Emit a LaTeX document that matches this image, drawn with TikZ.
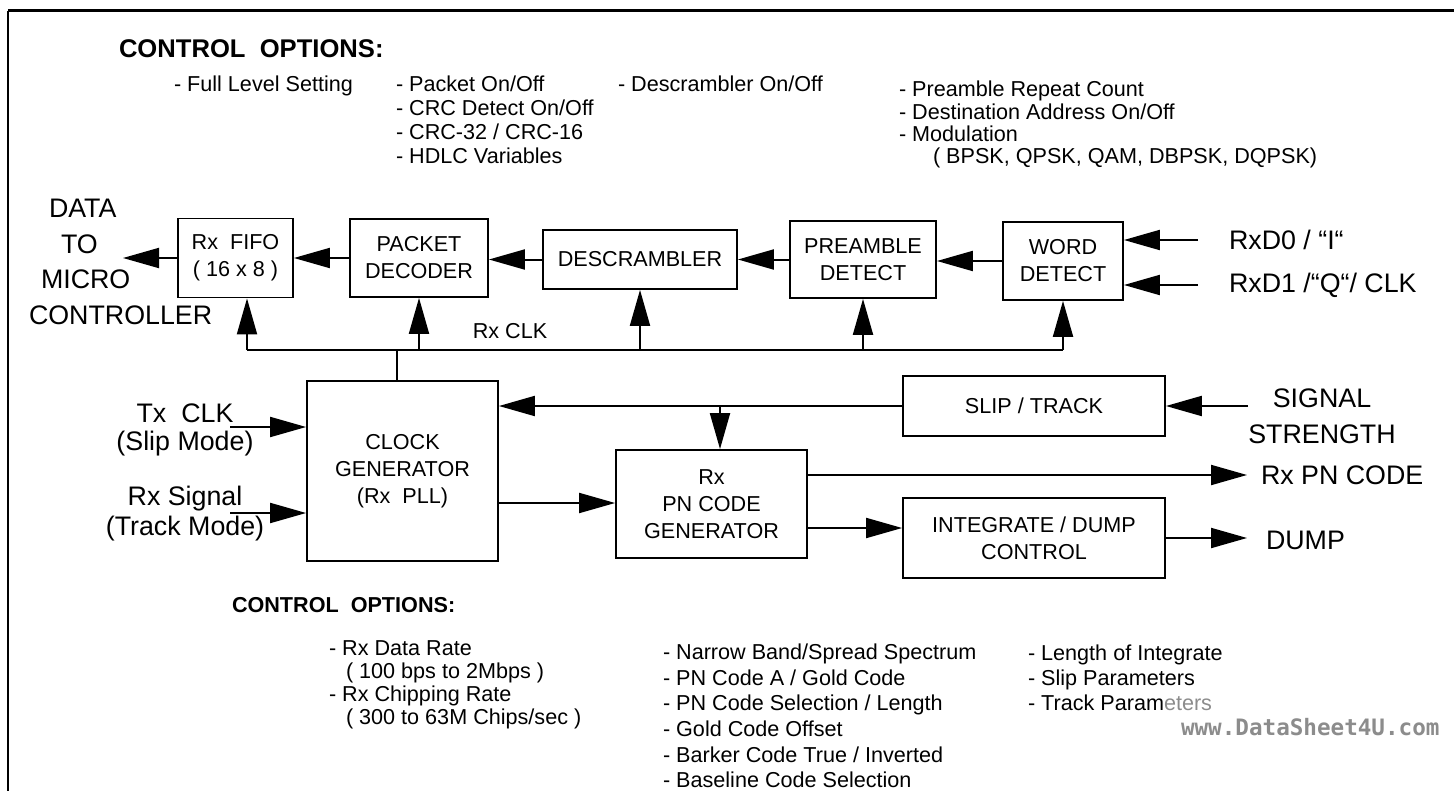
\documentclass[tikz,border=0pt]{standalone}
\usepackage{fontspec}
\setmainfont{Liberation Sans}
\newfontfamily\wmfont{DejaVu Sans Mono}
\usetikzlibrary{arrows.meta}

\begin{document}
\begin{tikzpicture}[x=0.5pt, y=-0.5pt, line width=1pt,
  blk/.style={draw, line width=0.9pt, inner sep=0pt, align=center, font=\fontsize{10.8}{13.5}\selectfont},
  arr/.style={-{Triangle[length=18pt, width=10pt]}},
  big/.style={inner sep=0pt, font=\fontsize{13.4}{17.8}\selectfont},
  opt/.style={anchor=north west, inner sep=0pt, align=left},
  head/.style={anchor=west, inner sep=0pt, font=\bfseries\fontsize{12.8}{15}\selectfont}]

\useasboundingbox (0,0) rectangle (1454,791);

% draw frame
\draw[line width=1.5pt] (8,11) -- (1454,11);
\draw[line width=1pt] (8,11) -- (8,791);

% draw upper control options
\node[head] (topopt) at (118,49) {CONTROL\ \ OPTIONS:};
\node[opt, font=\fontsize{10.8}{12}\selectfont] (fifoopt) at (173,75) {- Full Level Setting};
\node[opt, font=\fontsize{10.8}{12}\selectfont] (pktopt) at (395,75) {- Packet On/Off\\- CRC Detect On/Off\\- CRC-32 / CRC-16\\- HDLC Variables};
\node[opt, font=\fontsize{10.8}{12}\selectfont] (dscopt) at (617,75) {- Descrambler On/Off};
\node[opt, font=\fontsize{10.8}{11.2}\selectfont] (preopt) at (898,80) {- Preamble Repeat Count\\- Destination Address On/Off\\- Modulation\\\hspace*{17pt}( BPSK, QPSK, QAM, DBPSK, DQPSK)};

% draw receive chain
\node[blk, minimum width=57.5pt, minimum height=39.5pt] (fifo) at (235.5,258) {Rx\ \ FIFO\\( 16 x 8 )};
\node[blk, minimum width=69pt, minimum height=39pt] (packet) at (419,258) {PACKET\\DECODER};
\node[blk, minimum width=97pt, minimum height=29.5pt] (descr) at (640,259.5) {DESCRAMBLER};
\node[blk, minimum width=73pt, minimum height=38.5pt] (pream) at (863,259.5) {PREAMBLE\\DETECT};
\node[blk, minimum width=60pt, minimum height=39pt] (word) at (1063,261) {WORD\\DETECT};

\node[big, anchor=north west, align=left] (data) at (28,198) {\hspace*{10pt}DATA\\\hspace*{16pt}TO\\\hspace*{6pt}MICRO\\CONTROLLER};
\coordinate (dataout) at (123,258);

\draw[arr] (fifo.west) -- (dataout);
\draw[arr] (packet.west) -- (fifo.east);
\draw[arr] (descr.west) -- (descr.west -| packet.east);
\draw[arr] (pream.west) -- (pream.west -| descr.east);
\draw[arr] (word.west) -- (word.west -| pream.east);

% draw word detect inputs
\coordinate (rxd0) at (1198,240);
\coordinate (rxd1) at (1198,285);
\node[big, anchor=west] (rxd0lbl) at (1228,240) {RxD0 / “I“};
\node[big, anchor=west] (rxd1lbl) at (1228,285) {RxD1 /“Q“/ CLK};
\draw[arr] (rxd0) -- (rxd0 -| word.east);
\draw[arr] (rxd1) -- (rxd1 -| word.east);

% draw clock bus
\coordinate (bus) at (0,350);
\coordinate (busL) at (247,350);
\coordinate (busR) at (1063,350);
\coordinate (clktap) at (397,350);
\draw (busL) -- (busR);
\draw[arr] (busL) -- (busL |- fifo.south);
\draw[arr] (packet.south |- bus) -- (packet.south);
\draw[arr] (descr.south |- bus) -- (descr.south);
\draw[arr] (pream.south |- bus) -- (pream.south);
\draw[arr] (busR) -- (word.south);
\node[inner sep=0pt, font=\fontsize{10.8}{13}\selectfont] (rxclk) at (510,331) {Rx CLK};

% draw clock and code generators
\node[blk, minimum width=95.5pt, minimum height=90pt] (clock) at (402.5,471) {CLOCK\\GENERATOR\\(Rx\ \ PLL)};
\node[blk, minimum width=131pt, minimum height=30pt] (slip) at (1034,406) {SLIP / TRACK};
\node[blk, minimum width=95.5pt, minimum height=54pt] (pngen) at (711.5,504) {Rx\\PN CODE\\GENERATOR};
\node[blk, minimum width=131pt, minimum height=40pt] (integ) at (1034,538) {INTEGRATE / DUMP\\CONTROL};
\draw (clktap) -- (clktap |- clock.north);

% draw clock inputs
\coordinate (txin) at (230,427);
\coordinate (rxin) at (230,513);
\node[big, anchor=north, align=center, font=\fontsize{13.4}{14}\selectfont] (txlbl) at (185,402.5) {Tx\ \ CLK\\(Slip Mode)};
\node[big, anchor=north, align=center, font=\fontsize{13.4}{15}\selectfont] (rxlbl) at (185,485.5) {Rx Signal\\(Track Mode)};
\draw[arr] (txin) -- (txin -| clock.west);
\draw[arr] (rxin) -- (rxin -| clock.west);

% draw slip / track paths
\coordinate (sigin) at (1248,406);
\coordinate (pntap) at (720,406);
\node[big, anchor=north, align=center, font=\fontsize{13.4}{18}\selectfont] (siglbl) at (1322,387.5) {SIGNAL\\STRENGTH};
\draw[arr] (sigin) -- (slip.east);
\draw[arr] (slip.west) -- (slip.west -| clock.east);
\draw[arr] (pntap) -- (pntap |- pngen.north);
\draw[arr] (clock.east |- 0,503) -- (pngen.west |- 0,503);

% draw outputs
\coordinate (pnout) at (1247,475);
\coordinate (dumpout) at (1247,538);
\node[big, anchor=west] (pnlbl) at (1260,475) {Rx PN CODE};
\node[big, anchor=west] (dumplbl) at (1265,540) {DUMP};
\draw[arr] (pnout -| pngen.east) -- (pnout);
\draw[arr] (pngen.east |- 0,528) -- (integ.west |- 0,528);
\draw[arr] (integ.east) -- (dumpout);

% draw lower control options
\node[head, font=\bfseries\fontsize{10.8}{13}\selectfont] (botopt) at (231,605) {CONTROL\ \ OPTIONS:};
\node[opt, font=\fontsize{10.8}{11.5}\selectfont] (clkopt) at (328,640) {- Rx Data Rate\\\hspace*{8.5pt}( 100 bps to 2Mbps )\\- Rx Chipping Rate\\\hspace*{8.5pt}( 300 to 63M Chips/sec )};
\node[opt, font=\fontsize{10.8}{12.8}\selectfont] (pnopt) at (662,643) {- Narrow Band/Spread Spectrum\\- PN Code A / Gold Code\\- PN Code Selection / Length\\- Gold Code Offset\\- Barker Code True / Inverted\\- Baseline Code Selection};
\node[opt, font=\fontsize{10.8}{12.5}\selectfont] (intopt) at (1027,644) {- Length of Integrate\\- Slip Parameters\\- Track Param{\color{black!45}eters}};
\node[anchor=west, inner sep=0pt, text=black!45, font=\wmfont\bfseries\fontsize{11.3}{13}\selectfont] (wm) at (1180,727) {www.DataSheet4U.com};

\end{tikzpicture}
\end{document}
